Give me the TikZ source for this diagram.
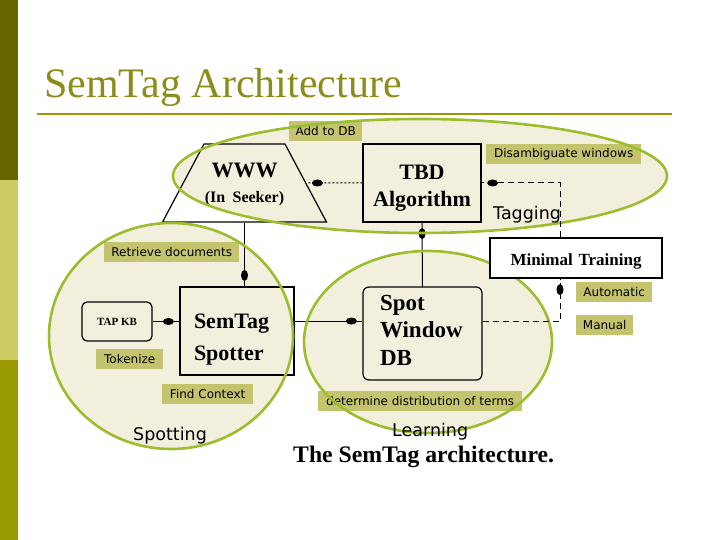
\documentclass[tikz,border=0pt]{standalone}
\usepackage{fontspec}
\setmainfont{Liberation Serif}
\newfontfamily\tagfont{DejaVu Sans}
\usetikzlibrary{arrows.meta,calc,shapes.geometric,decorations.markings}
\definecolor{olivedark}{HTML}{666600}
\definecolor{olivelight}{HTML}{CCCC66}
\definecolor{olive}{HTML}{999900}
\definecolor{headline}{HTML}{8C8C1A}
\definecolor{sand}{HTML}{F2F0DC}
\definecolor{leaf}{HTML}{9CBD2E}
\definecolor{khaki}{HTML}{C4C46E}
\tikzset{
  box/.style={draw=black,line width=1.2pt,inner sep=0pt},
  tag/.style={fill=khaki,inner sep=0pt,minimum height=20pt,anchor=north west,
    font=\tagfont\fontsize{12}{12}\selectfont},
  zone/.style={draw=leaf,line width=2.6pt},
  phase/.style={inner sep=0pt,anchor=base west,font=\tagfont\fontsize{17.5}{17.5}\selectfont},
  blob/.style={postaction={decorate,decoration={markings,
    mark=at position -11pt with {\fill[black] (0,0) ellipse [x radius=5.5,y radius=3.5];}}}},
  link/.style={draw=black,line width=1pt},
  dashlink/.style={link,dash pattern=on 6pt off 4pt},
  dotlink/.style={link,dash pattern=on 2pt off 2pt}}

\begin{document}
\begin{tikzpicture}[x=1pt,y=-1pt]
\useasboundingbox (0,0) rectangle (720,540);
\fill[olivedark] (0,0) rectangle (18,180);
\fill[olivelight] (0,180) rectangle (18,360);
\fill[olive] (0,360) rectangle (18,540);
\node[anchor=base west,inner sep=0pt,text=headline,font=\fontsize{42}{42}\selectfont] (title) at (44,98) {SemTag Architecture};
\draw[olive,line width=2pt] (37,114) -- (672,114);
\foreach \cx/\cy/\rx/\ry in {420/176/247/57,171/336/122/113,428/342/124/91}
  \fill[sand] (\cx,\cy) ellipse [x radius=\rx,y radius=\ry];
\node[box,trapezium,trapezium left angle=62,trapezium right angle=62,
  text width=81pt,text height=34pt,text depth=44pt,align=center,
  font=\bfseries\fontsize{22}{25}\selectfont] (www) at (244.5,183)
  {WWW\\{\fontsize{16}{25}\selectfont(In Seeker)}};
\node[box,text width=118pt,text height=36pt,text depth=42pt,align=center,
  font=\bfseries\fontsize{22}{27}\selectfont] (tbd) at (422,183) {TBD\\Algorithm};
\node[box,inner xsep=14pt,text width=86pt,text height=41pt,text depth=47pt,align=left,
  font=\bfseries\fontsize{22}{32}\selectfont] (spotter) at (237,331) {SemTag\\Spotter};
\node[box,rounded corners=5pt,minimum width=70pt,minimum height=39pt,
  font=\bfseries\fontsize{11}{11}\selectfont] (tapkb) at (117,321.5) {TAP KB};
\node[box,rounded corners=6pt,inner xsep=17pt,text width=85pt,text height=23pt,text depth=70pt,
  align=left,font=\bfseries\fontsize{23}{27.5}\selectfont] (swdb) at (422.5,333.5) {Spot\\Window\\DB};
\node[tag,minimum width=73pt] (adddb) at (289,121) {Add to DB};
\node[tag,minimum width=155pt] (disamb) at (486,144) {Disambiguate windows};
\node[tag,minimum width=135pt] (retrieve) at (104,242) {Retrieve documents};
\node[tag,minimum width=67pt] (tokenize) at (96,349) {Tokenize};
\node[tag,minimum width=91pt] (findctx) at (162,384) {Find Context};
\node[tag,minimum width=204pt] (distrib) at (318,391) {determine distribution of terms};
\node[tag,minimum width=76pt] (automatic) at (576,282) {Automatic};
\node[tag,minimum width=57pt] (manual) at (576,315) {Manual};
\draw[link,blob] (www.south) -- (www.south |- spotter.north);
\draw[link,blob] (tapkb) -- (tapkb -| spotter.west);
\draw[link,blob] ([yshift=10pt]spotter.east) -- ([yshift=10pt]spotter.east -| swdb.west);
\draw[link,blob] (swdb.north) -- (tbd.south);
\draw[dotlink,blob] (tbd.west) -- (www.east);
\foreach \cx/\cy/\rx/\ry in {420/176/247/57,171/336/122/113,428/342/124/91}
  \draw[zone] (\cx,\cy) ellipse [x radius=\rx,y radius=\ry];
\node[box,fill=white,text width=172pt,text height=27pt,text depth=13pt,align=center,
  font=\bfseries\fontsize{17}{17}\selectfont] (minimal) at (576,258) {Minimal Training};
\draw[dashlink,blob] ([xshift=-16pt]minimal.north) |- (tbd.east);
\draw[dashlink,blob] ([yshift=12pt]swdb.east) -| ([xshift=-16pt]minimal.south);
\node[phase] (tagging) at (493,220) {Tagging};
\node[phase] (spotting) at (133,440) {Spotting};
\node[phase] (learning) at (392,436) {Learning};
\node[anchor=base west,inner sep=0pt,font=\bfseries\fontsize{23.7}{24}\selectfont] (caption) at (293,462) {The SemTag architecture.};
\end{tikzpicture}
\end{document}
